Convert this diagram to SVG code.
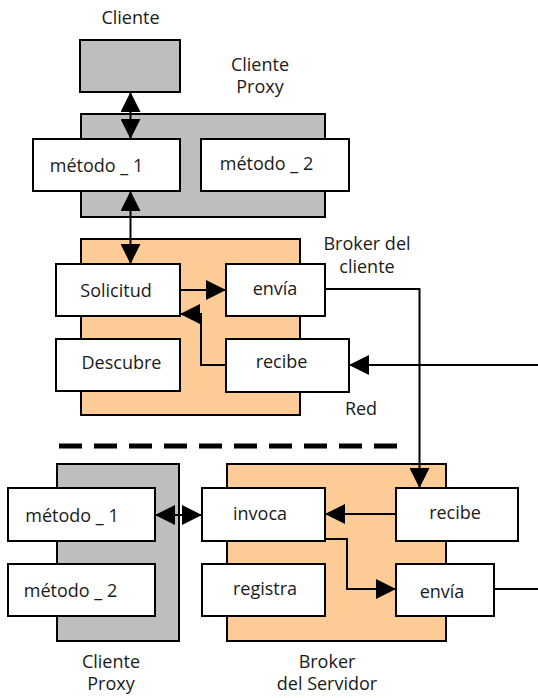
<svg xmlns="http://www.w3.org/2000/svg" width="538" height="698" viewBox="0 0 538 698">
  <defs>
    <style>
      .gray { fill: #bdbec0; stroke: #000; stroke-width: 2; }
      .orange { fill: #fdcb96; stroke: #000; stroke-width: 2; }
      .box { fill: #fff; stroke: #000; stroke-width: 2; }
      .lbl { font-family: "Open Sans", "Liberation Sans", sans-serif; font-size: 18px; fill: #1a1a1a; text-anchor: middle; }
      .wire { fill: none; stroke: #000; stroke-width: 2; }
      .dash { fill: none; stroke: #000; stroke-width: 5; stroke-dasharray: 23 12; }
    </style>
    <marker id="head" markerUnits="userSpaceOnUse" markerWidth="20" markerHeight="20" refX="20" refY="10" orient="auto-start-reverse">
      <path d="M0,0 L20,10 L0,20 Z" fill="#000"/>
    </marker>
  </defs>

  <rect width="538" height="698" fill="#fff"/>

  <!-- client side -->
  <g id="cliente">
    <rect class="gray" x="80" y="40" width="100" height="52"/>
    <text class="lbl" x="130.5" y="24">Cliente</text>
  </g>

  <g id="cliente-proxy">
    <rect class="gray" x="81" y="114" width="244" height="103"/>
    <text class="lbl" x="260" y="71">Cliente</text>
    <text class="lbl" x="260" y="93">Proxy</text>
  </g>
  <g id="proxy-metodo-1">
    <rect class="box" x="33" y="139" width="147" height="52"/>
    <text class="lbl" x="96.5" y="172" xml:space="preserve">método _ 1</text>
  </g>
  <g id="proxy-metodo-2">
    <rect class="box" x="201" y="139" width="148" height="52"/>
    <text class="lbl" x="266.5" y="170" xml:space="preserve">método _ 2</text>
  </g>

  <g id="broker-cliente">
    <rect class="orange" x="81" y="239" width="219" height="176"/>
    <text class="lbl" x="367" y="250">Broker del</text>
    <text class="lbl" x="367" y="273">cliente</text>
  </g>
  <g id="solicitud">
    <rect class="box" x="56" y="264" width="124" height="52"/>
    <text class="lbl" x="116" y="297">Solicitud</text>
  </g>
  <g id="descubre">
    <rect class="box" x="56" y="339" width="124" height="52"/>
    <text class="lbl" x="121.5" y="369">Descubre</text>
  </g>
  <g id="cliente-envia">
    <rect class="box" x="226" y="264" width="99" height="52"/>
    <text class="lbl" x="275" y="295">envía</text>
  </g>
  <g id="cliente-recibe">
    <rect class="box" x="226" y="339" width="123" height="53"/>
    <text class="lbl" x="281.5" y="368">recibe</text>
  </g>

  <g id="red">
    <text class="lbl" x="361" y="415">Red</text>
    <line class="dash" x1="59" y1="446" x2="397" y2="446"/>
  </g>

  <!-- server side -->
  <g id="servidor-proxy">
    <rect class="gray" x="57" y="464" width="122" height="177"/>
    <text class="lbl" x="111" y="668">Cliente</text>
    <text class="lbl" x="111" y="690">Proxy</text>
  </g>
  <g id="servidor-metodo-1">
    <rect class="box" x="8" y="488" width="147" height="53"/>
    <text class="lbl" x="72" y="522" xml:space="preserve">método _ 1</text>
  </g>
  <g id="servidor-metodo-2">
    <rect class="box" x="8" y="564" width="147" height="52"/>
    <text class="lbl" x="70.5" y="597" xml:space="preserve">método _ 2</text>
  </g>

  <g id="broker-servidor">
    <rect class="orange" x="227" y="464" width="219" height="177"/>
    <text class="lbl" x="327" y="668">Broker</text>
    <text class="lbl" x="327" y="690">del Servidor</text>
  </g>
  <g id="invoca">
    <rect class="box" x="202" y="488" width="123" height="53"/>
    <text class="lbl" x="260" y="520">invoca</text>
  </g>
  <g id="registra">
    <rect class="box" x="202" y="564" width="123" height="52"/>
    <text class="lbl" x="265" y="595">registra</text>
  </g>
  <g id="servidor-recibe">
    <rect class="box" x="396" y="488" width="122" height="53"/>
    <text class="lbl" x="455" y="519">recibe</text>
  </g>
  <g id="servidor-envia">
    <rect class="box" x="396" y="564" width="98" height="52"/>
    <text class="lbl" x="442" y="598">envía</text>
  </g>

  <!-- connectors -->
  <g id="connectors">
    <line class="wire" x1="130.5" y1="92" x2="130.5" y2="139" marker-start="url(#head)" marker-end="url(#head)"/>
    <line class="wire" x1="130.5" y1="191" x2="130.5" y2="264" marker-start="url(#head)" marker-end="url(#head)"/>
    <line class="wire" x1="180" y1="290" x2="226" y2="290" marker-end="url(#head)"/>
    <polyline class="wire" points="226,365 201,365 201,314 180,314" marker-end="url(#head)"/>
    <polyline class="wire" points="325,289 419.5,289 419.5,488" marker-end="url(#head)"/>
    <line class="wire" x1="538" y1="365" x2="349" y2="365" marker-end="url(#head)"/>
    <line class="wire" x1="155" y1="515" x2="202" y2="515" marker-start="url(#head)" marker-end="url(#head)"/>
    <line class="wire" x1="396" y1="514" x2="325" y2="514" marker-end="url(#head)"/>
    <polyline class="wire" points="325,539 347,539 347,589 396,589" marker-end="url(#head)"/>
    <line class="wire" x1="494" y1="589" x2="538" y2="589"/>
  </g>
</svg>
